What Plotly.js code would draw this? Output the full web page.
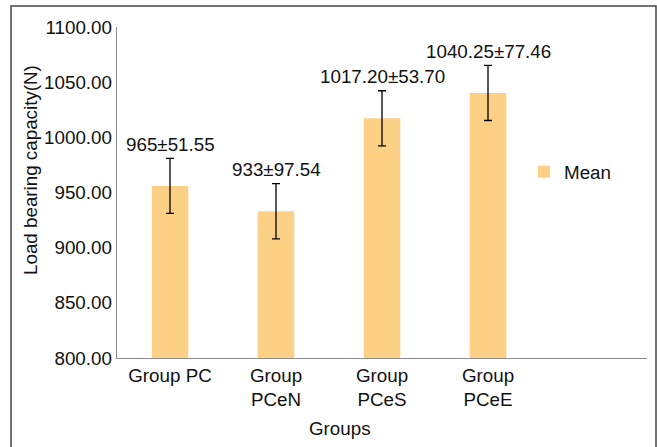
<!DOCTYPE html>
<html>
<head>
<meta charset="utf-8">
<script src="https://cdn.plot.ly/plotly-3.0.1.min.js"></script>
<style>html,body{margin:0;padding:0;background:#fff;}#chart{width:657px;height:447px;}</style>
</head>
<body>
<div id="chart"></div>
<script>
const categories = ["Group PC", "Group<br>PCeN", "Group<br>PCeS", "Group<br>PCeE"];
const meanValues = [956, 933, 1017.2, 1040.25];
const errorValues = [25, 25, 25, 25];
const barLabels = ["965±51.55", "933±97.54", "1017.20±53.70", "1040.25±77.46"];
const seriesName = "Mean";
const yTickVals = [800, 850, 900, 950, 1000, 1050, 1100];

const FONT = "Liberation Sans, Arial, Helvetica, sans-serif";
const FS = 18.8;
const xIdx = categories.map((c, i) => i);

const trace = {
  type: "bar",
  name: seriesName,
  x: xIdx,
  y: meanValues,
  width: 0.345,
  marker: {color: "#FCD085", line: {width: 0}},
  error_y: {type: "data", array: errorValues, visible: true, color: "#000000", thickness: 1.3, width: 4},
  showlegend: true,
  hoverinfo: "none"
};

const annotations = barLabels.map((t, i) => ({
  x: i, y: meanValues[i] + errorValues[i], xref: "x", yref: "y",
  text: t, showarrow: false, xanchor: "center", yanchor: "middle", yshift: 14,
  font: {family: FONT, size: FS, color: "#111111"}
}));
annotations.push({
  xref: "paper", yref: "paper", x: (340 - 117) / 530, y: (358 - 429) / 331,
  text: "Groups", showarrow: false, xanchor: "center", yanchor: "middle",
  font: {family: FONT, size: FS, color: "#111111"}
});
annotations.push({
  xref: "paper", yref: "paper", x: (31 - 117) / 530, y: (358 - 170) / 331,
  text: "Load bearing capacity(N)", textangle: -90, showarrow: false,
  xanchor: "center", yanchor: "middle",
  font: {family: FONT, size: FS, color: "#111111"}
});

const layout = {
  width: 657, height: 447,
  margin: {l: 117, r: 10, t: 27, b: 89, pad: 0},
  paper_bgcolor: "#ffffff", plot_bgcolor: "#ffffff",
  font: {family: FONT, size: FS, color: "#111111"},
  xaxis: {
    range: [-0.5, 4.5], tickvals: xIdx, ticktext: categories,
    showgrid: false, zeroline: false, showline: true, linecolor: "#8c8c8c", linewidth: 1.3,
    ticks: "", tickfont: {family: FONT, size: FS, color: "#111111"}, fixedrange: true
  },
  yaxis: {
    range: [800, 1100], tickvals: yTickVals, ticktext: yTickVals.map(v => v.toFixed(2)),
    showgrid: false, zeroline: false, showline: true, linecolor: "#8c8c8c", linewidth: 1.3,
    ticks: "", tickfont: {family: FONT, size: FS, color: "#111111"}, fixedrange: true
  },
  showlegend: true,
  legend: {
    x: (524 - 117) / 530, xanchor: "left", y: (358 - 172) / 331, yanchor: "middle",
    bgcolor: "rgba(0,0,0,0)", borderwidth: 0, itemwidth: 30,
    font: {family: FONT, size: FS, color: "#111111"}
  },
  annotations: annotations,
  shapes: [{
    type: "rect", xref: "paper", yref: "paper",
    x0: (11 - 117) / 530, x1: (656 - 117) / 530,
    y0: (358 - 455) / 331, y1: (358 - 6) / 331,
    line: {color: "#444444", width: 1.5}, fillcolor: "rgba(0,0,0,0)", layer: "below"
  }]
};

Plotly.newPlot("chart", [trace], layout, {staticPlot: true, displayModeBar: false});
</script>
</body>
</html>
